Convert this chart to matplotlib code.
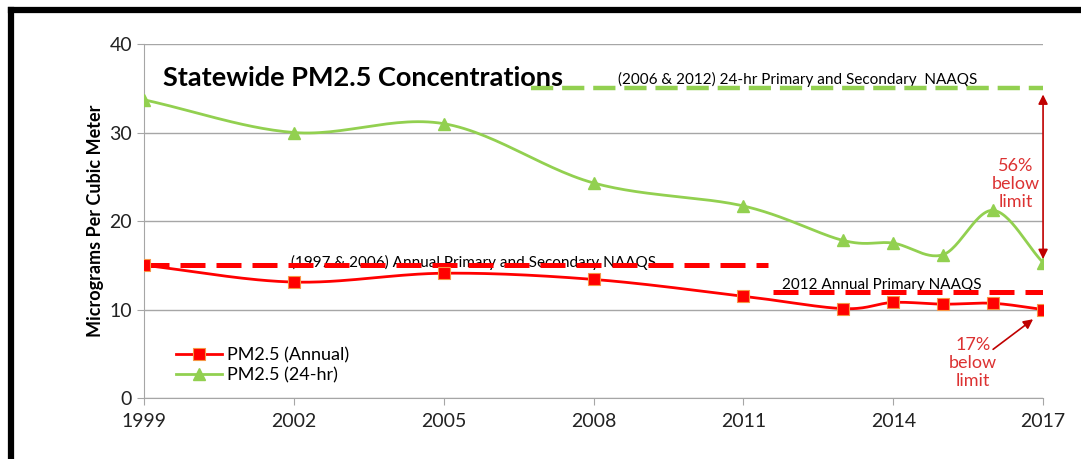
import numpy as np
import matplotlib
matplotlib.use("Agg")
import matplotlib.pyplot as plt
from matplotlib.lines import Line2D

plt.rcParams['font.family'] = ['Lato', 'DejaVu Sans']

# data
years = [1999, 2002, 2005, 2008, 2011, 2013, 2014, 2015, 2016, 2017]
pm_annual = [15.0, 13.1, 14.1, 13.4, 11.5, 10.1, 10.8, 10.6, 10.7, 10.0]
pm_24hr = [33.7, 30.0, 31.0, 24.3, 21.7, 17.8, 17.5, 16.2, 21.2, 15.3]

naaqs_24hr = 35
naaqs_24hr_span = [2006.75, 2017]
naaqs_annual_old = 15
naaqs_annual_old_span = [1999, 2011.5]
naaqs_annual_new = 12
naaqs_annual_new_span = [2011.6, 2017]

xticks = [1999, 2002, 2005, 2008, 2011, 2014, 2017]
yticks = [0, 10, 20, 30, 40]

RED = '#ff0000'
GREEN = '#92d050'
DARKRED = '#c00000'
TXTRED = '#dc3232'


def smooth(x, y, n=30):
    # catmull-rom like Excel's smoothed line
    x = np.asarray(x, float)
    y = np.asarray(y, float)
    px = np.concatenate([[2 * x[0] - x[1]], x, [2 * x[-1] - x[-2]]])
    py = np.concatenate([[2 * y[0] - y[1]], y, [2 * y[-1] - y[-2]]])
    ox, oy = [], []
    t = np.linspace(0, 1, n)
    for i in range(1, len(px) - 2):
        for p, out in ((px, ox), (py, oy)):
            p0, p1, p2, p3 = p[i - 1], p[i], p[i + 1], p[i + 2]
            out.extend(0.5 * (2 * p1 + (-p0 + p2) * t
                              + (2 * p0 - 5 * p1 + 4 * p2 - p3) * t ** 2
                              + (-p0 + 3 * p1 - 3 * p2 + p3) * t ** 3))
    return np.array(ox), np.array(oy)


fig = plt.figure(figsize=(10.81, 4.59), dpi=100)
ax = fig.add_axes([0.1332, 0.1329, 0.8317, 0.7712])

# frame around the chart
fig.add_artist(Line2D([0.0102, 0.0102], [0, 0.978], color='black', lw=4.5,
                      transform=fig.transFigure, solid_capstyle='projecting'))
fig.add_artist(Line2D([0.0102, 1.0], [0.978, 0.978], color='black', lw=4.5,
                      transform=fig.transFigure, solid_capstyle='projecting'))

# limit lines
ax.plot(naaqs_24hr_span, [naaqs_24hr] * 2, color=GREEN, lw=3.2,
        dashes=(5, 2), zorder=4)
ax.plot(naaqs_annual_old_span, [naaqs_annual_old] * 2, color=RED, lw=3.6,
        dashes=(5, 2.2), zorder=4)
ax.plot(naaqs_annual_new_span, [naaqs_annual_new] * 2, color=RED, lw=3.6,
        dashes=(5, 2.2), zorder=4)

# series
sx, sy = smooth(years, pm_annual)
ax.plot(sx, sy, color=RED, lw=2, zorder=5)
ax.plot(years, pm_annual, ls='none', marker='s', ms=9, color=RED,
        mec='#f79646', mew=0.8, zorder=6)
sx, sy = smooth(years, pm_24hr)
ax.plot(sx, sy, color=GREEN, lw=2, zorder=5)
ax.plot(years, pm_24hr, ls='none', marker='^', ms=9, color=GREEN, zorder=6)

h1 = Line2D([], [], color=RED, lw=2, marker='s', ms=9, mec='#f79646', mew=0.8)
h2 = Line2D([], [], color=GREEN, lw=2, marker='^', ms=9)
ax.legend([h1, h2], ['PM2.5 (Annual)', 'PM2.5 (24-hr)'], loc='lower left',
          bbox_to_anchor=(0.018, -0.005), frameon=False, fontsize=13,
          handlelength=2.5, handletextpad=0.3, labelspacing=0.2)

# text labels
ax.text(1999.38, 35.25, 'Statewide PM2.5 Concentrations', fontsize=19.5,
        fontweight='bold', ha='left', va='baseline', zorder=7)
ax.text(2012.08, 35.45, '(2006 & 2012) 24-hr Primary and Secondary  NAAQS',
        fontsize=11, ha='center', va='baseline', zorder=3)
ax.text(2005.6, 14.75, '(1997 & 2006) Annual Primary and Secondary NAAQS',
        fontsize=11, ha='center', va='baseline', zorder=3)
ax.text(2013.78, 12.35, '2012 Annual Primary NAAQS', fontsize=11,
        ha='center', va='baseline', zorder=3)

ax.annotate('', xy=(2017, 34.3), xytext=(2017, 15.7),
            arrowprops=dict(arrowstyle='<|-|>', color=DARKRED, lw=1.2,
                            mutation_scale=14, shrinkA=0, shrinkB=0), zorder=7)
ax.text(2016.46, 24.2, '56%\nbelow\nlimit', color=TXTRED, fontsize=13,
        ha='center', va='center', linespacing=1.15)
ax.annotate('', xy=(2016.8, 8.9), xytext=(2016.0, 5.5),
            arrowprops=dict(arrowstyle='-|>', color=DARKRED, lw=1.2,
                            mutation_scale=14, shrinkA=0, shrinkB=0), zorder=7)
ax.text(2015.6, 4.0, '17%\nbelow\nlimit', color=TXTRED, fontsize=13,
        ha='center', va='center', linespacing=1.15)

# axes styling
ax.set_xlim(1999, 2017)
ax.set_ylim(0, 40)
ax.set_xticks(xticks)
ax.set_yticks(yticks)
ax.grid(axis='y', color='#a6a6a6', lw=1)
ax.set_axisbelow(True)
for s in ['top', 'right']:
    ax.spines[s].set_visible(False)
for s in ['left', 'bottom']:
    ax.spines[s].set_color('#a6a6a6')
ax.tick_params(axis='both', colors='#a6a6a6', labelcolor='#222222',
               labelsize=14, length=5)
ax.tick_params(axis='x', pad=6)
ax.set_ylabel('Micrograms Per Cubic Meter', fontsize=13, fontweight='bold',
              labelpad=4)

fig.savefig('out.png', dpi=100)
